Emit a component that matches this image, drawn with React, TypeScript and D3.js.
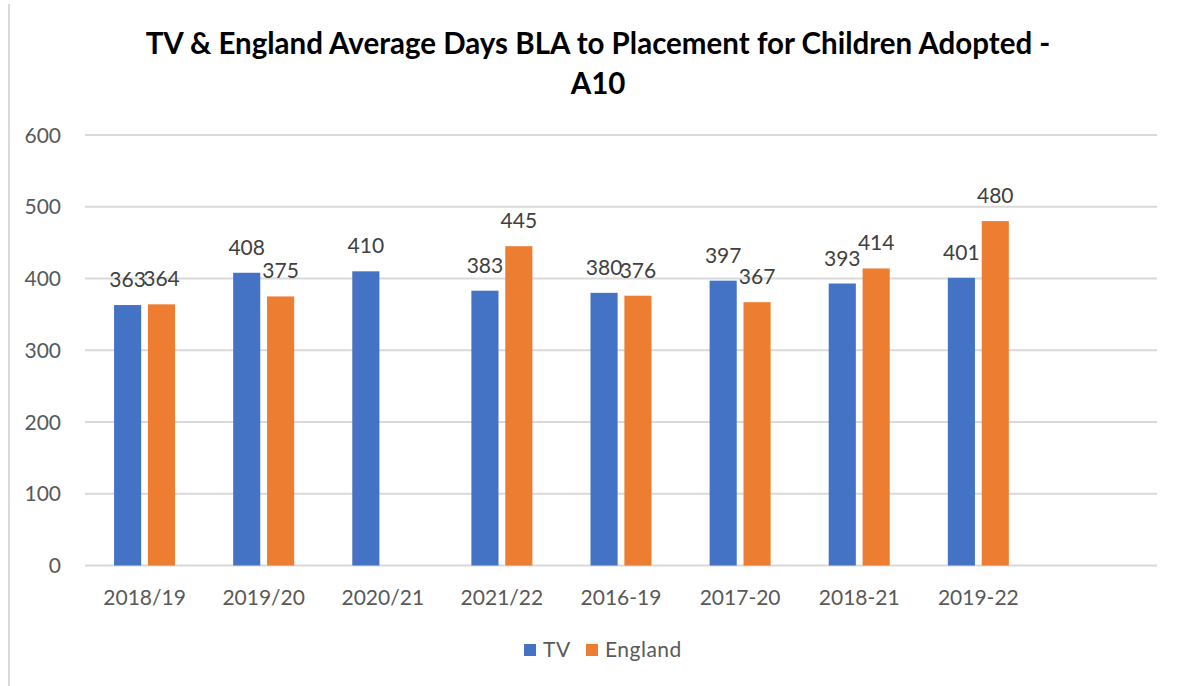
import { useEffect, useRef } from 'react';
import * as d3 from 'd3';

const categories = ["2018/19", "2019/20", "2020/21", "2021/22", "2016-19", "2017-20", "2018-21", "2019-22"];
const tvValues = [363, 408, 410, 383, 380, 397, 393, 401];
const englandValues: (number | null)[] = [364, 375, null, 445, 376, 367, 414, 480];
const yTicks = [0, 100, 200, 300, 400, 500, 600];
const seriesNames = ["TV", "England"];
const seriesColors = ["#4472C4", "#ED7D31"];
const titleLines = ["TV & England Average Days BLA to Placement for Children Adopted -", "A10"];

const WIDTH = 1182;
const HEIGHT = 686;

const App = () => {
  const svgRef = useRef<SVGSVGElement>(null);

  useEffect(() => {
    if (!svgRef.current) return;
    const svg = d3.select(svgRef.current);
    svg.selectAll("*").remove();

    const font = "Lato, 'Open Sans', sans-serif";
    const plotLeft = 85;
    const plotRight = 1157;

    // chart area edge on the left
    svg.append("line")
      .attr("x1", 9).attr("x2", 9)
      .attr("y1", 4).attr("y2", HEIGHT)
      .attr("stroke", "#d9d9d9")
      .attr("stroke-width", 2);

    // title
    svg.append("g")
      .selectAll("text")
      .data(titleLines)
      .enter()
      .append("text")
      .attr("x", 598)
      .attr("y", (d, i) => 54 + i * 40)
      .attr("text-anchor", "middle")
      .style("font-family", font)
      .style("font-weight", "bold")
      .style("font-size", "29.5px")
      .style("fill", "#000")
      .text(d => d);

    // y scale
    const y = d3.scaleLinear()
      .domain([0, 600])
      .range([565.5, 135]);

    // one empty slot after the last category, as in the original
    const step = (plotRight - plotLeft) / (categories.length + 1);
    const x = d3.scaleBand()
      .domain(categories)
      .range([plotLeft, plotLeft + step * categories.length]);

    const groupWidth = 61;
    const xInner = d3.scaleBand()
      .domain(seriesNames)
      .range([(x.bandwidth() - groupWidth) / 2, (x.bandwidth() + groupWidth) / 2])
      .paddingInner(0.2);

    // gridlines
    svg.append("g")
      .selectAll("line")
      .data(yTicks)
      .enter()
      .append("line")
      .attr("x1", plotLeft)
      .attr("x2", plotRight)
      .attr("y1", d => y(d))
      .attr("y2", d => y(d))
      .attr("stroke", "#d9d9d9")
      .attr("stroke-width", 2);

    // y tick labels
    svg.append("g")
      .selectAll("text")
      .data(yTicks)
      .enter()
      .append("text")
      .attr("x", 61)
      .attr("y", d => y(d) + 7.5)
      .attr("text-anchor", "end")
      .style("font-family", font)
      .style("font-size", "21px")
      .style("fill", "#595959")
      .text(d => d);

    // x tick labels
    svg.append("g")
      .selectAll("text")
      .data(categories)
      .enter()
      .append("text")
      .attr("x", d => (x(d) ?? 0) + x.bandwidth() / 2)
      .attr("y", 605)
      .attr("text-anchor", "middle")
      .style("font-family", font)
      .style("font-size", "21px")
      .style("fill", "#595959")
      .text(d => d);

    const series = [tvValues, englandValues];

    series.forEach((values, si) => {
      const points = categories
        .map((c, i) => ({ c, v: values[i] }))
        .filter(p => p.v != null) as { c: string; v: number }[];

      const g = svg.append("g");

      g.selectAll("rect")
        .data(points)
        .enter()
        .append("rect")
        .attr("x", d => (x(d.c) ?? 0) + (xInner(seriesNames[si]) ?? 0))
        .attr("y", d => y(d.v))
        .attr("width", xInner.bandwidth())
        .attr("height", d => y(0) - y(d.v))
        .attr("fill", seriesColors[si]);

      // data labels
      g.selectAll("text")
        .data(points)
        .enter()
        .append("text")
        .attr("x", d => (x(d.c) ?? 0) + (xInner(seriesNames[si]) ?? 0) + xInner.bandwidth() / 2)
        .attr("y", d => y(d.v) - 18)
        .attr("text-anchor", "middle")
        .style("font-family", font)
        .style("font-size", "21px")
        .style("fill", "#404040")
        .text(d => d.v);
    });

    // legend
    const legendX = [524, 586];
    const legend = svg.append("g");
    seriesNames.forEach((name, i) => {
      legend.append("rect")
        .attr("x", legendX[i])
        .attr("y", 644)
        .attr("width", 12)
        .attr("height", 12)
        .attr("fill", seriesColors[i]);
      legend.append("text")
        .attr("x", legendX[i] + 19)
        .attr("y", 657)
        .style("font-family", font)
        .style("font-size", "21px")
        .style("letter-spacing", "0.5px")
        .style("fill", "#595959")
        .text(name);
    });
  }, []);

  return (
    <svg
      ref={svgRef}
      width={WIDTH}
      height={HEIGHT}
      style={{ position: "absolute", left: 0, top: 0, background: "#fff" }}
    />
  );
};

export default App;
